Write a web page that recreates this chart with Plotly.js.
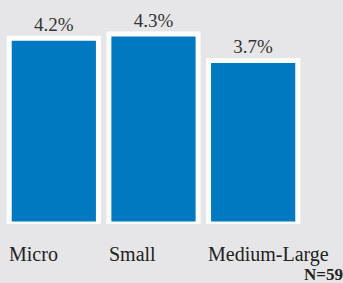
<!DOCTYPE html>
<html>
<head>
<meta charset="utf-8">
<script src="https://cdn.plot.ly/plotly-3.0.1.min.js"></script>
<style>html,body{margin:0;padding:0;background:#e6e6e8;}</style>
</head>
<body>
<div id="chart" style="width:343px;height:283px;"></div>
<script>
const categories = ["Micro", "Small", "Medium-Large"];
const values = [4.2, 4.3, 3.7];
const valueLabels = ["4.2%", "4.3%", "3.7%"];
const note = "N=59";

const font = "'Liberation Serif', 'DejaVu Serif', serif";

const trace = {
  type: "bar",
  x: categories,
  y: values,
  text: valueLabels,
  textposition: "outside",
  textfont: {family: font, size: 19, color: "#333333"},
  cliponaxis: false,
  marker: {color: "#0079c1", line: {color: "#ffffff", width: 5}},
  hoverinfo: "none"
};

const annotations = categories.map((c, i) => ({
  x: i - 0.47, y: 0, xref: "x", yref: "y",
  text: c, showarrow: false, xanchor: "left", yanchor: "middle",
  yshift: -30,
  font: {family: font, size: 20, color: "#222222"}
}));
annotations.push({
  x: 1, y: 0, xref: "paper", yref: "paper", xanchor: "right", yanchor: "middle",
  yshift: -50, xshift: 42,
  text: "<b>" + note + "</b>", showarrow: false,
  font: {family: font, size: 17, color: "#222222"}
});

const layout = {
  width: 343, height: 283,
  margin: {l: 4, r: 40, t: 3, b: 59},
  paper_bgcolor: "#e6e6e8", plot_bgcolor: "#e6e6e8",
  bargap: 0.105,
  showlegend: false,
  xaxis: {type: "category", range: [-0.5, 2.5], showticklabels: false, showgrid: false, zeroline: false, showline: false, ticks: ""},
  yaxis: {range: [0, 5], showticklabels: false, showgrid: false, zeroline: false, showline: false, ticks: ""},
  annotations: annotations
};

Plotly.newPlot("chart", [trace], layout, {displayModeBar: false, staticPlot: true});
</script>
</body>
</html>
